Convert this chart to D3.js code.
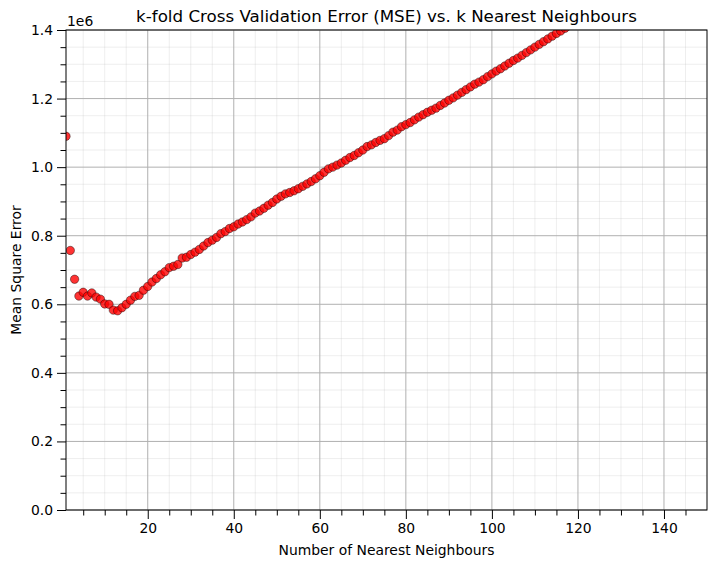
<!DOCTYPE html>
<html>
<head>
<meta charset="utf-8">
<script src="https://cdn.jsdelivr.net/npm/d3@7"></script>
<style>
  body { margin: 0; background: #fff; }
  svg { font-family: "DejaVu Sans", sans-serif; }
</style>
</head>
<body>
<div id="chart"></div>
<script>
// mean square error for k = 1..118 (points above 1.4e6 are clipped anyway)
const mse = [
  1.090, 0.757, 0.673, 0.624, 0.635, 0.624, 0.633, 0.621, 0.615, 0.601,
  0.600, 0.583, 0.581, 0.590, 0.600, 0.612, 0.623, 0.626, 0.641, 0.652,
  0.665, 0.675, 0.686, 0.695, 0.707, 0.711, 0.716, 0.735, 0.737, 0.745,
  0.752, 0.760, 0.770, 0.780, 0.787, 0.795, 0.806, 0.812, 0.821, 0.826,
  0.834, 0.840, 0.847, 0.855, 0.866, 0.872, 0.880, 0.889, 0.897, 0.907,
  0.915, 0.922, 0.926, 0.931, 0.937, 0.944, 0.951, 0.958, 0.966, 0.975,
  0.985, 0.995, 1.000, 1.006, 1.012, 1.020, 1.028, 1.034, 1.042, 1.050,
  1.060, 1.065, 1.072, 1.078, 1.083, 1.092, 1.102, 1.108, 1.118, 1.124,
  1.130, 1.138, 1.146, 1.153, 1.160, 1.166, 1.172, 1.180, 1.187, 1.195,
  1.202, 1.210, 1.218, 1.226, 1.234, 1.242, 1.248, 1.255, 1.264, 1.272,
  1.280, 1.287, 1.295, 1.303, 1.311, 1.318, 1.326, 1.334, 1.342, 1.350,
  1.358, 1.366, 1.374, 1.382, 1.390, 1.397, 1.405, 1.413
].map(v => v * 1e6)
const neighbours = mse.map((_, i) => i + 1)

const xTicks = [20, 40, 60, 80, 100, 120, 140]
const xMinor = d3.range(5, 150, 5).filter(d => d % 20 !== 0)
const yTicks = [0, 0.2e6, 0.4e6, 0.6e6, 0.8e6, 1.0e6, 1.2e6, 1.4e6]
const yMinor = d3.range(0, 1.4e6 + 1, 0.05e6).filter(d => Math.round(d / 1e4) % 20 !== 0)

const width = 716, height = 568
const margin = { top: 30, right: 9, bottom: 58, left: 66 }
const iw = width - margin.left - margin.right,
  ih = height - margin.top - margin.bottom

const svg = d3.select('#chart').append('svg')
  .attr('width', width)
  .attr('height', height)

const x = d3.scaleLinear().domain([1, 150]).range([0, iw])
const y = d3.scaleLinear().domain([0, 1.4e6]).range([ih, 0])

const g = svg.append('g').attr('transform', `translate(${margin.left},${margin.top})`)

svg.append('defs').append('clipPath').attr('id', 'clip')
  .append('rect').attr('width', iw).attr('height', ih)

// minor grid
g.append('g').selectAll('line').data(xMinor).enter().append('line')
  .attr('x1', d => x(d)).attr('x2', d => x(d)).attr('y1', 0).attr('y2', ih)
  .attr('stroke', '#b0b0b0').attr('stroke-opacity', 0.22).attr('stroke-width', 1)
g.append('g').selectAll('line').data(yMinor).enter().append('line')
  .attr('y1', d => y(d)).attr('y2', d => y(d)).attr('x1', 0).attr('x2', iw)
  .attr('stroke', '#b0b0b0').attr('stroke-opacity', 0.22).attr('stroke-width', 1)

// major grid
g.append('g').selectAll('line').data(xTicks).enter().append('line')
  .attr('x1', d => x(d)).attr('x2', d => x(d)).attr('y1', 0).attr('y2', ih)
  .attr('stroke', '#b0b0b0').attr('stroke-width', 1)
g.append('g').selectAll('line').data(yTicks).enter().append('line')
  .attr('y1', d => y(d)).attr('y2', d => y(d)).attr('x1', 0).attr('x2', iw)
  .attr('stroke', '#b0b0b0').attr('stroke-width', 1)

// points
g.append('g').attr('clip-path', 'url(#clip)')
  .selectAll('circle').data(mse).enter().append('circle')
  .attr('cx', (d, i) => x(neighbours[i]))
  .attr('cy', d => y(d))
  .attr('r', 4.2)
  .attr('fill', 'red').attr('fill-opacity', 0.8)
  .attr('stroke', 'black').attr('stroke-opacity', 0.7).attr('stroke-width', 0.6)

// axes
let xAxis = g.append('g').attr('transform', `translate(0,${ih})`)
  .call(d3.axisBottom(x).tickValues(xTicks).tickSize(9).tickPadding(4).tickFormat(d3.format('d')))
let xAxisMinor = g.append('g').attr('transform', `translate(0,${ih})`)
  .call(d3.axisBottom(x).tickValues(xMinor).tickSize(5.5).tickFormat(''))
let yAxis = g.append('g')
  .call(d3.axisLeft(y).tickValues(yTicks).tickSize(9).tickPadding(4).tickFormat(d => (d / 1e6).toFixed(1)))
let yAxisMinor = g.append('g')
  .call(d3.axisLeft(y).tickValues(yMinor).tickSize(5.5).tickFormat(''))

;[xAxis, xAxisMinor, yAxis, yAxisMinor].forEach(a => {
  a.select('.domain').remove()
  a.selectAll('line').attr('stroke', '#000').attr('stroke-width', 1)
  a.selectAll('text').attr('fill', '#000').style('font-size', '13.9px').style('font-family', '"DejaVu Sans", sans-serif')
})

// frame
g.append('rect').attr('width', iw).attr('height', ih)
  .attr('fill', 'none').attr('stroke', '#000').attr('stroke-width', 1)

// texts
svg.append('text')
  .attr('x', margin.left + iw / 2).attr('y', 22)
  .attr('text-anchor', 'middle')
  .style('font-size', '16.7px')
  .text('k-fold Cross Validation Error (MSE) vs. k Nearest Neighbours')

svg.append('text')
  .attr('x', margin.left + 1).attr('y', 26)
  .style('font-size', '13.9px')
  .text('1e6')

svg.append('text')
  .attr('x', margin.left + iw / 2).attr('y', 555)
  .attr('text-anchor', 'middle')
  .style('font-size', '13.9px')
  .text('Number of Nearest Neighbours')

svg.append('text')
  .attr('transform', `translate(21,${margin.top + ih / 2}) rotate(-90)`)
  .attr('text-anchor', 'middle')
  .style('font-size', '13.9px')
  .text('Mean Square Error')
</script>
</body>
</html>
